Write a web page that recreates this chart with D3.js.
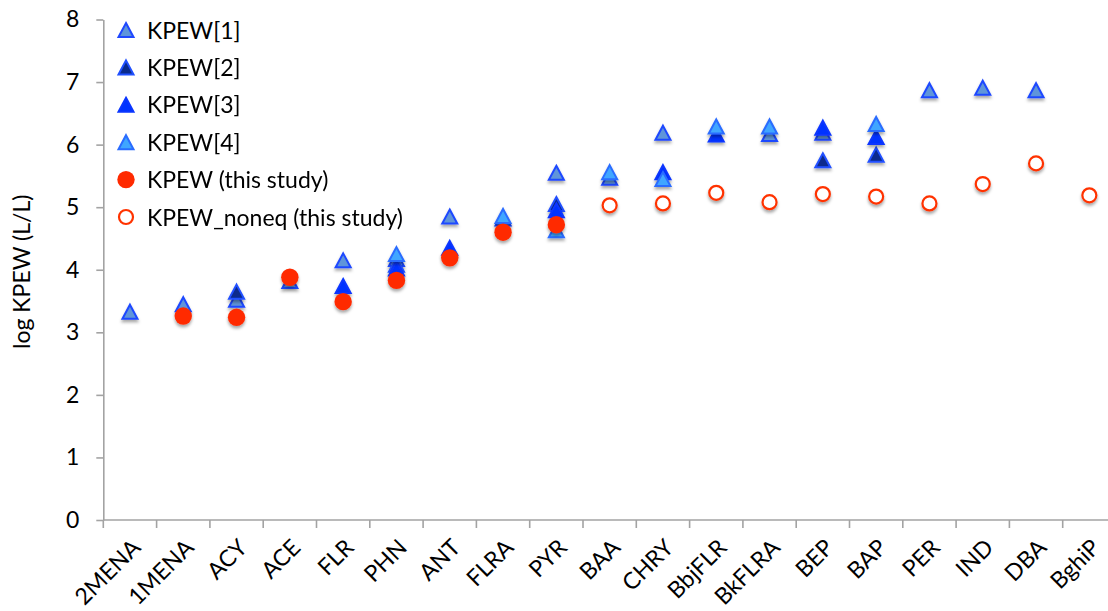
<!DOCTYPE html>
<html>
<head>
<meta charset="utf-8">
<script src="https://cdn.jsdelivr.net/npm/d3@7"></script>
<style>
  html, body { margin: 0; padding: 0; background: #ffffff; }
  svg { display: block; font-family: Lato, "Open Sans", sans-serif; }
</style>
</head>
<body>
<svg id="chart" width="1108" height="611"></svg>
<script>
// Compounds on the x axis
const categories = ["2MENA","1MENA","ACY","ACE","FLR","PHN","ANT","FLRA","PYR","BAA",
                    "CHRY","BbjFLR","BkFLRA","BEP","BAP","PER","IND","DBA","BghiP"];

// log KPEW values (L/L); null = no value for that compound
const kpew1 = [3.33, 3.45, 3.52, 3.82, 4.15, 4.17, 4.85, 4.82, 5.55, 5.47,
               6.19, null, 6.17, 6.19, null, 6.87, 6.91, 6.87, null];
const kpew2 = [null, null, 3.65, null, null, 4.08, null, null, 5.05, null,
               null, null, null, 5.75, 5.84, null, null, null, null];
const kpew3 = [null, null, null, null, 3.74, 4.02, 4.35, null, 4.95, null,
               5.56, 6.16, null, 6.27, 6.12, null, null, null, null];
const kpew4 = [null, null, null, null, null, 4.25, null, 4.86, 4.63, 5.56,
               5.45, 6.29, 6.29, null, 6.33, null, null, null, null];
const kpewThisStudy = [null, 3.26, 3.24, 3.88, 3.49, 3.83, 4.19, 4.60, 4.72, null,
                       null, null, null, null, null, null, null, null, null];
const kpewNoneq = [null, null, null, null, null, null, null, null, null, 5.03,
                   5.06, 5.23, 5.08, 5.21, 5.17, 5.06, 5.37, 5.70, 5.19];

const yTicks = [0, 1, 2, 3, 4, 5, 6, 7, 8];
const yTitle = "log KPEW (L/L)";

const seriesList = [
  { name: "KPEW[1]", values: kpew1, shape: "tri", fill: "#5f95da", stroke: "#1f48ff" },
  { name: "KPEW[2]", values: kpew2, shape: "tri", fill: "#0a2a8c", stroke: "#2050ff" },
  { name: "KPEW[3]", values: kpew3, shape: "tri", fill: "#0033ff", stroke: "#0a36ff" },
  { name: "KPEW[4]", values: kpew4, shape: "tri", fill: "#3fa6ff", stroke: "#2a6cff" },
  { name: "KPEW (this study)", values: kpewThisStudy, shape: "dot", fill: "#ff2a00", stroke: "#ff2a00" },
  { name: "KPEW_noneq (this study)", values: kpewNoneq, shape: "ring", fill: "#ffffff", stroke: "#ff3300" }
];

const svg = d3.select("#chart");
const plotLeft = 103.3, plotBottom = 520, plotTop = 19.5, band = 53.3;
const axisColor = "#a3a3a3";

const x = d3.scaleBand().domain(categories).range([plotLeft, plotLeft + band * categories.length]).padding(0);
const y = d3.scaleLinear().domain([0, 8]).range([plotBottom, plotTop]);

// drop shadow under markers
const defs = svg.append("defs");
const f = defs.append("filter").attr("id", "shadow")
  .attr("x", "-50%").attr("y", "-50%").attr("width", "200%").attr("height", "200%");
f.append("feDropShadow").attr("dx", 0).attr("dy", 2.5).attr("stdDeviation", 1.4)
  .attr("flood-color", "#000").attr("flood-opacity", 0.35);

// y axis
const yAxis = svg.append("g").attr("transform", `translate(${plotLeft},0)`)
  .call(d3.axisLeft(y).tickValues(yTicks).tickFormat(d3.format("d")).tickSize(7).tickSizeOuter(0).tickPadding(17));
yAxis.select(".domain").attr("stroke", axisColor).attr("stroke-width", 1.6);
yAxis.selectAll(".tick line").attr("stroke", axisColor).attr("stroke-width", 1.6);
yAxis.selectAll(".tick text").attr("font-size", 23).attr("fill", "#000").attr("font-family", "Lato");

// x axis: line, boundary ticks, rotated labels
const xg = svg.append("g");
xg.append("line").attr("x1", plotLeft).attr("x2", x.range()[1])
  .attr("y1", plotBottom).attr("y2", plotBottom).attr("stroke", axisColor).attr("stroke-width", 1.6);
const bounds = categories.map(c => x(c)).concat([x.range()[1]]);
xg.selectAll("line.bt").data(bounds).join("line").attr("class", "bt")
  .attr("x1", d => d).attr("x2", d => d).attr("y1", plotBottom).attr("y2", plotBottom + 8)
  .attr("stroke", axisColor).attr("stroke-width", 1.6);
xg.selectAll("text.xl").data(categories).join("text").attr("class", "xl")
  .attr("transform", d => `translate(${x(d) + x.bandwidth() / 2 + 12},${plotBottom + 29}) rotate(-45)`)
  .attr("text-anchor", "end").attr("font-size", 23).attr("fill", "#000")
  .text(d => d);

// y title
svg.append("text").attr("transform", `translate(30,${(plotTop + plotBottom) / 2 + 2}) rotate(-90)`)
  .attr("text-anchor", "middle").attr("font-size", 23).attr("fill", "#000").text(yTitle);

const triPath = "M0,-7 L7.5,7 L-7.5,7 Z";

function drawMarker(g, s) {
  if (s.shape === "tri") {
    g.append("path").attr("d", triPath).attr("fill", s.fill).attr("stroke", s.stroke)
      .attr("stroke-width", 2).attr("stroke-linejoin", "miter");
  } else if (s.shape === "dot") {
    g.append("circle").attr("r", 8.7).attr("fill", s.fill);
  } else {
    g.append("circle").attr("r", 7).attr("fill", s.fill).attr("stroke", s.stroke).attr("stroke-width", 2.2);
  }
}

// markers, series in order so later ones sit on top
const plot = svg.append("g");
seriesList.forEach(s => {
  const pts = categories.map((c, i) => ({ c, v: s.values[i] })).filter(p => p.v != null);
  plot.append("g").attr("filter", "url(#shadow)")
    .selectAll("g").data(pts).join("g")
    .attr("transform", p => `translate(${x(p.c) + x.bandwidth() / 2},${y(p.v)})`)
    .each(function () { drawMarker(d3.select(this), s); });
});

// legend
const legend = svg.append("g");
seriesList.forEach((s, i) => {
  const ly = 30 + i * 37.4;
  const mg = legend.append("g").attr("transform", `translate(126,${ly})`);
  drawMarker(mg, s);
  legend.append("text").attr("x", 147).attr("y", ly + 8.5)
    .attr("font-size", 23).attr("fill", "#000").text(s.name);
});
</script>
</body>
</html>
